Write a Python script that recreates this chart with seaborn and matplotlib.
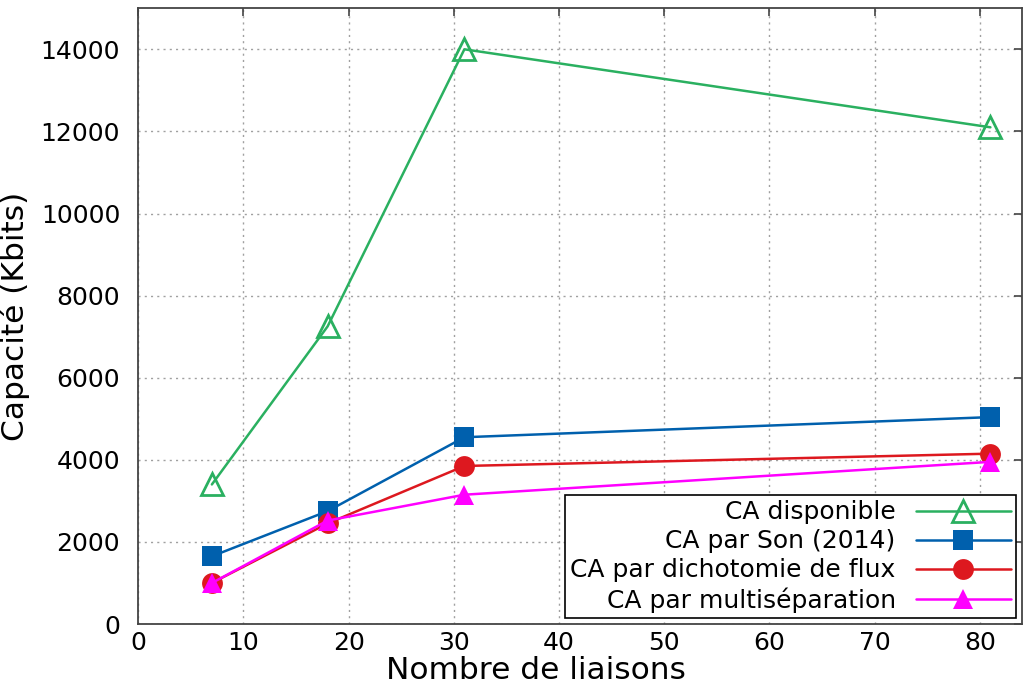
import matplotlib
matplotlib.use("Agg")
import matplotlib.pyplot as plt
import seaborn as sns
import pandas as pd

# nombre de liaisons
liaisons = [7, 18, 31, 81]
# capacité (Kbits) par méthode
ca_disponible = [3400, 7250, 14000, 12100]
ca_son = [1650, 2750, 4550, 5040]
ca_dichotomie = [1000, 2450, 3850, 4150]
ca_multisep = [1000, 2520, 3150, 3950]

labels = ["CA disponible", "CA par Son (2014)",
          "CA par dichotomie de flux", "CA par multiséparation"]
colors = ["#2ab060", "#0060ad", "#dd181f", "#ff00ff"]
markers = ["^", "s", "o", "^"]
faces = ["none", None, None, None]

sns.set_style("white")
plt.rcParams['font.family'] = ['DejaVu Sans']
plt.rcParams['text.color'] = 'black'
plt.rcParams['axes.labelcolor'] = 'black'
plt.rcParams['xtick.color'] = 'black'
plt.rcParams['ytick.color'] = 'black'

df = pd.DataFrame({"x": liaisons * 4,
                   "y": ca_disponible + ca_son + ca_dichotomie + ca_multisep,
                   "serie": sum([[l] * len(liaisons) for l in labels], [])})

fig = plt.figure(figsize=(10.24, 6.88), dpi=100)
ax = fig.add_axes([0.135, 0.093, 0.863, 0.895])

for lab, col, mk, fc in zip(labels, colors, markers, faces):
    sub = df[df["serie"] == lab]
    kw = dict(markerfacecolor=fc if fc else col, markeredgecolor=col)
    if fc == "none":
        kw["markeredgewidth"] = 2
        ms = 16
    else:
        kw["markeredgewidth"] = 0
        ms = 15
    sns.lineplot(data=sub, x="x", y="y", ax=ax, color=col, marker=mk,
                 markersize=ms, linewidth=1.8, label=lab, **kw)

ax.set_xlim(0, 84)
ax.set_ylim(0, 15000)
ax.set_xticks(range(0, 81, 10))
ax.set_yticks(range(0, 14001, 2000))
ax.grid(True, color="#a0a0a0", linestyle=(0, (1.5, 3)), linewidth=1)
ax.tick_params(direction="in", length=6, width=1.2, labelsize=18,
               top=True, right=True, color="#444444")
ax.tick_params(axis="y", pad=13)
ax.tick_params(axis="x", pad=5)
for s in ax.spines.values():
    s.set_color("#444444")
    s.set_linewidth(1.3)
ax.set_xlabel("Nombre de liaisons", fontsize=22.5)
ax.xaxis.set_label_coords(0.45, -0.052)
ax.set_ylabel("Capacité (Kbits)", fontsize=22.5, labelpad=8)

leg = ax.legend(loc="lower right", fontsize=18, markerfirst=False,
                alignment="right", fancybox=False, framealpha=1,
                edgecolor="black", handlelength=3.8, borderaxespad=0.25,
                labelspacing=0.2, borderpad=0.2, handletextpad=0.8)
leg.get_frame().set_linewidth(1.2)

fig.savefig("out.png", dpi=100)
